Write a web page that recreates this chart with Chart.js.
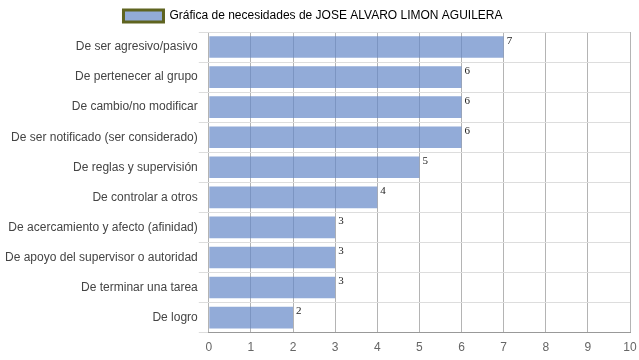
<!DOCTYPE html>
<html>
<head>
<meta charset="utf-8">
<script src="https://cdn.jsdelivr.net/npm/chart.js@4/dist/chart.umd.min.js"></script>
<style>
html,body{margin:0;padding:0;background:#fff;}
#wrap{width:639px;height:360px;position:relative;}
</style>
</head>
<body>
<div id="wrap"><canvas id="c" width="639" height="360"></canvas></div>
<script>
const categories = [
  "De ser agresivo/pasivo",
  "De pertenecer al grupo",
  "De cambio/no modificar",
  "De ser notificado (ser considerado)",
  "De reglas y supervisión",
  "De controlar a otros",
  "De acercamiento y afecto (afinidad)",
  "De apoyo del supervisor o autoridad",
  "De terminar una tarea",
  "De logro"
];
const values = [7, 6, 6, 6, 5, 4, 3, 3, 3, 2];
const seriesName = "Gráfica de necesidades de JOSE ALVARO LIMON AGUILERA";
const xTicks = [0,1,2,3,4,5,6,7,8,9,10];

const barLabels = {
  id: 'barLabels',
  afterDatasetsDraw(chart) {
    const ctx = chart.ctx;
    const meta = chart.getDatasetMeta(0);
    ctx.save();
    ctx.font = '11px "Liberation Serif", "Times New Roman", serif';
    ctx.fillStyle = '#222';
    ctx.textAlign = 'left';
    ctx.textBaseline = 'top';
    meta.data.forEach((bar, i) => {
      const top = bar.y - bar.height / 2;
      ctx.fillText(String(values[i]), bar.x + 3, top - 1);
    });
    ctx.restore();
  }
};

const legendShift = {
  id: 'legendShift',
  afterLayout(chart) {
    if (chart.legend) { chart.legend.left -= 4; chart.legend.right -= 4; }
  }
};

new Chart(document.getElementById('c'), {
  type: 'bar',
  data: {
    labels: categories,
    datasets: [{
      label: seriesName,
      data: values,
      backgroundColor: 'rgba(100,135,200,0.7)',
      borderWidth: 0
    }]
  },
  options: {
    indexAxis: 'y',
    responsive: false,
    animation: false,
    layout: { padding: { left: 4, right: 9, top: 2, bottom: -3 } },
    plugins: {
      legend: {
        position: 'top',
        labels: {
          boxWidth: 40,
          boxHeight: 12,
          padding: 8,
          color: '#555',
          font: { family: '"Liberation Sans", Arial, sans-serif', size: 12 },
          generateLabels(chart) {
            return [{
              text: seriesName,
              fillStyle: 'rgba(100,135,200,0.7)',
              strokeStyle: '#5f6420',
              lineWidth: 3,
              datasetIndex: 0
            }];
          }
        }
      },
      tooltip: { enabled: false }
    },
    scales: {
      x: {
        min: 0,
        max: 10,
        afterBuildTicks(axis) { axis.ticks = xTicks.map(v => ({ value: v })); },
        afterFit(axis) { axis.paddingRight = 0; },
        grid: { color: '#b4b4b4', tickLength: 0, drawTicks: false },
        border: { color: '#999' },
        ticks: {
          color: '#666',
          padding: 8,
          font: { family: '"Liberation Sans", Arial, sans-serif', size: 12 }
        }
      },
      y: {
        grid: { color: '#dddddd', tickLength: 10, offset: true },
        border: { display: false },
        ticks: {
          color: '#444',
          padding: 1,
          font: { family: '"Liberation Sans", Arial, sans-serif', size: 12 }
        }
      }
    }
  },
  plugins: [barLabels, legendShift]
});
</script>
</body>
</html>
